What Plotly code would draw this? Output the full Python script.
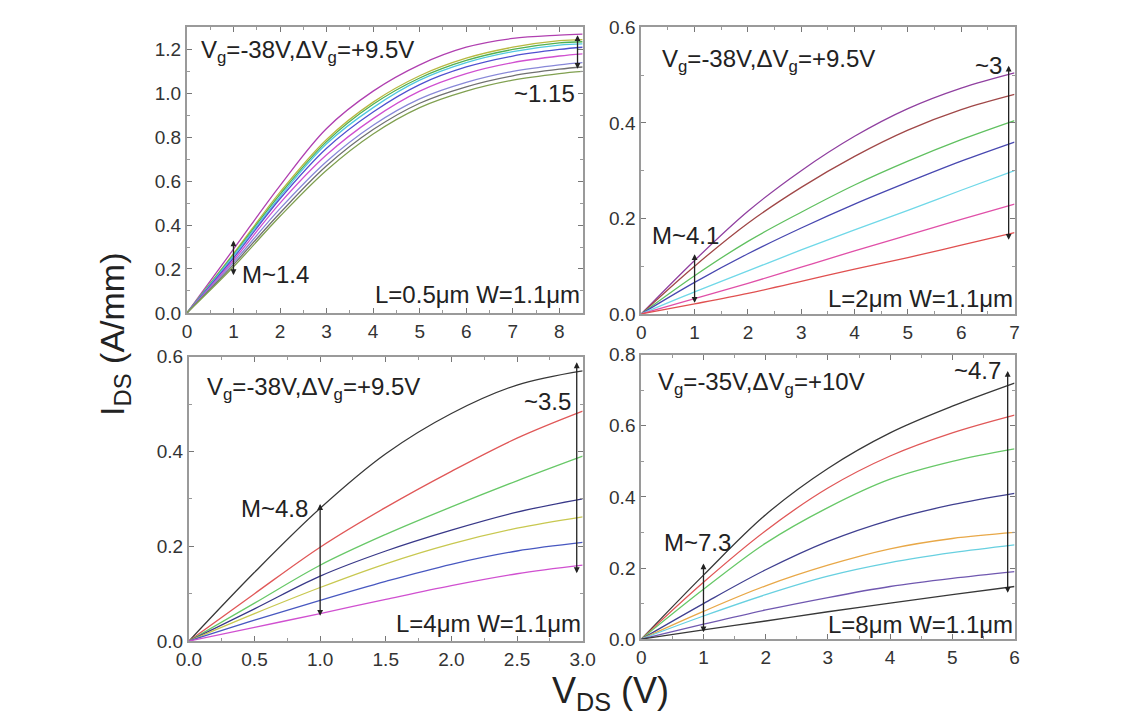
import plotly.graph_objects as go

W, H = 1135, 721

# ---------------- data ----------------
# Panel (a): L=0.5um
vds_a = [0, 1, 2, 3, 4, 5, 6, 7, 8, 8.5]
ids_a = [
    [0, 0.29, 0.58, 0.84, 1.01, 1.13, 1.21, 1.25, 1.265, 1.27],
    [0, 0.27, 0.55, 0.79, 0.96, 1.08, 1.16, 1.21, 1.24, 1.245],
    [0, 0.265, 0.54, 0.78, 0.95, 1.07, 1.15, 1.20, 1.23, 1.235],
    [0, 0.26, 0.53, 0.77, 0.935, 1.06, 1.14, 1.19, 1.22, 1.225],
    [0, 0.25, 0.52, 0.75, 0.915, 1.04, 1.12, 1.17, 1.20, 1.21],
    [0, 0.24, 0.50, 0.72, 0.885, 1.01, 1.09, 1.14, 1.17, 1.18],
    [0, 0.23, 0.475, 0.69, 0.855, 0.975, 1.05, 1.10, 1.13, 1.14],
    [0, 0.22, 0.455, 0.67, 0.835, 0.955, 1.03, 1.08, 1.11, 1.12],
    [0, 0.21, 0.44, 0.65, 0.815, 0.935, 1.01, 1.06, 1.09, 1.10],
]
col_a = ["#B040B0", "#B8B840", "#50B050", "#50C8E0", "#5050D0",
         "#D050D0", "#8888D8", "#707070", "#80A050"]

# Panel (b): L=2um
vds_b = [0, 1, 2, 3, 4, 5, 6, 7]
ids_b = [
    [0, 0.112, 0.215, 0.30, 0.372, 0.43, 0.473, 0.505],
    [0, 0.10, 0.19, 0.265, 0.33, 0.385, 0.428, 0.46],
    [0, 0.08, 0.152, 0.213, 0.27, 0.32, 0.365, 0.405],
    [0, 0.066, 0.126, 0.18, 0.23, 0.276, 0.32, 0.36],
    [0, 0.046, 0.09, 0.134, 0.176, 0.217, 0.259, 0.30],
    [0, 0.032, 0.064, 0.098, 0.132, 0.165, 0.198, 0.23],
    [0, 0.021, 0.043, 0.068, 0.094, 0.118, 0.144, 0.17],
]
col_b = ["#9040A0", "#A04848", "#60C060", "#4848B0", "#70D8E8", "#E050A8", "#E05050"]

# Panel (c): L=4um
vds_c = [0, 0.5, 1, 1.5, 2, 2.5, 3]
ids_c = [
    [0, 0.145, 0.28, 0.395, 0.48, 0.54, 0.57],
    [0, 0.10, 0.198, 0.282, 0.358, 0.428, 0.485],
    [0, 0.08, 0.16, 0.225, 0.283, 0.338, 0.39],
    [0, 0.068, 0.137, 0.19, 0.234, 0.272, 0.30],
    [0, 0.058, 0.113, 0.163, 0.205, 0.238, 0.262],
    [0, 0.044, 0.086, 0.126, 0.162, 0.19, 0.208],
    [0, 0.029, 0.058, 0.088, 0.117, 0.142, 0.16],
]
col_c = ["#383838", "#E05858", "#68C868", "#383888", "#C8C850", "#4858C0", "#D050D0"]

# Panel (d): L=8um
vds_d = [0, 1, 2, 3, 4, 5, 6]
ids_d = [
    [0, 0.18, 0.35, 0.48, 0.58, 0.655, 0.72],
    [0, 0.16, 0.305, 0.425, 0.515, 0.58, 0.63],
    [0, 0.14, 0.27, 0.37, 0.45, 0.50, 0.535],
    [0, 0.10, 0.195, 0.275, 0.335, 0.378, 0.41],
    [0, 0.078, 0.15, 0.208, 0.254, 0.283, 0.30],
    [0, 0.065, 0.125, 0.177, 0.215, 0.243, 0.265],
    [0, 0.042, 0.082, 0.117, 0.148, 0.171, 0.19],
    [0, 0.026, 0.051, 0.077, 0.101, 0.125, 0.148],
]
col_d = ["#383838", "#E05858", "#68C868", "#404090", "#E8A848", "#68D0E0", "#7058B0", "#383838"]

# ---------------- layout geometry (pixels) ----------------
def px_dom(a, b, total):
    return [a / total, b / total]

panels = [
    # (axis suffix, x px range, y px range (top,bottom), x range, y range, xdtick, ydtick, xfmt)
    ("", (178, 583), (18, 312), [0, 8.5], [0, 1.3], 1, 0.2, "d"),
    ("2", (643, 1025), (18, 313), [0, 7], [0, 0.6], 1, 0.2, "d"),
    ("3", (180, 583), (357, 650), [0, 3], [0, 0.6], 0.5, 0.2, ".1f"),
    ("4", (643, 1025), (355, 648), [0, 6], [0, 0.8], 1, 0.2, "d"),
]

FONT = "Liberation Sans, Arial, sans-serif"
fig = go.Figure()

datasets = [(vds_a, ids_a, col_a), (vds_b, ids_b, col_b), (vds_c, ids_c, col_c), (vds_d, ids_d, col_d)]
for (suf, _, _, _, _, _, _, _), (xs, ys, cs) in zip(panels, datasets):
    for y, c in zip(ys, cs):
        fig.add_trace(go.Scatter(x=xs, y=y, mode="lines",
                                 line=dict(color=c, width=1.3, shape="spline", smoothing=1.0),
                                 xaxis="x" + suf, yaxis="y" + suf, showlegend=False,
                                 hoverinfo="skip"))

layout = {}
for suf, (x0, x1), (yt, yb), xr, yr, xdt, ydt, xfmt in panels:
    common = dict(showline=True, linecolor="#9a9a9a", linewidth=2, mirror="ticks",
                  ticks="inside", ticklen=5, tickwidth=1, tickcolor="#777",
                  showgrid=False, zeroline=False,
                  tickfont=dict(family=FONT, size=19, color="#333"))
    layout["xaxis" + suf] = dict(common, domain=px_dom(x0, x1, W), range=xr,
                                 anchor="y" + suf, dtick=xdt, tick0=0, tickformat=xfmt,
                                 minor=dict(ticks="inside", ticklen=3, dtick=xdt / 2, tickcolor="#999"))
    layout["yaxis" + suf] = dict(common, domain=[1 - yb / H, 1 - yt / H], range=yr,
                                 anchor="x" + suf, dtick=ydt, tick0=0, tickformat=".1f",
                                 minor=dict(ticks="inside", ticklen=3, dtick=ydt / 2, tickcolor="#999"))

fig.update_layout(**layout)

ann = []
TXT = dict(family=FONT, size=24, color="#222")

def txt(suf, x, y, t, xa="left"):
    ann.append(dict(xref="x" + suf, yref="y" + suf, x=x, y=y, text=t, showarrow=False,
                    xanchor=xa, yanchor="middle", font=TXT))

def arrow(suf, x, y0, y1):
    ann.append(dict(xref="x" + suf, yref="y" + suf, x=x, y=y1, ax=x, ay=y0,
                    axref="x" + suf, ayref="y" + suf, text="", showarrow=True,
                    arrowhead=2, arrowsize=0.9, arrowwidth=1.3, arrowcolor="#222",
                    arrowside="end+start", standoff=0, startstandoff=0))

vg1 = "V<sub>g</sub>=-38V,ΔV<sub>g</sub>=+9.5V"
vg4 = "V<sub>g</sub>=-35V,ΔV<sub>g</sub>=+10V"

# panel a
txt("", 0.25, 1.19, vg1)
txt("", 8.37, 1.0, "~1.15", "right")
txt("", 1.15, 0.175, "M~1.4")
txt("", 8.48, 0.085, "L=0.5μm W=1.1μm", "right")
arrow("", 1.0, 0.165, 0.33)
arrow("", 8.39, 1.105, 1.265)
# panel b
txt("2", 0.35, 0.53, vg1)
txt("2", 6.8, 0.52, "~3", "right")
txt("2", 0.17, 0.165, "M~4.1")
txt("2", 7.0, 0.033, "L=2μm W=1.1μm", "right")
arrow("2", 1.0, 0.02, 0.125)
arrow("2", 6.89, 0.152, 0.52)
# panel c
txt("3", 0.12, 0.533, vg1)
txt("3", 2.93, 0.506, "~3.5", "right")
txt("3", 0.92, 0.28, "M~4.8", "right")
txt("3", 3.0, 0.037, "L=4μm W=1.1μm", "right")
arrow("3", 1.0, 0.05, 0.289)
arrow("3", 2.955, 0.14, 0.588)
# panel d
txt("4", 0.23, 0.72, vg4)
txt("4", 5.82, 0.755, "~4.7", "right")
txt("4", 0.34, 0.273, "M~7.3")
txt("4", 6.0, 0.041, "L=8μm W=1.1μm", "right")
arrow("4", 1.0, 0.015, 0.213)
arrow("4", 5.89, 0.126, 0.754)

# axis titles
ann.append(dict(xref="paper", yref="paper", x=104 / W, y=1 - 334 / H,
                text="I<sub>DS</sub> (A/mm)", textangle=-90, showarrow=False,
                xanchor="center", yanchor="middle",
                font=dict(family=FONT, size=34, color="#222")))
ann.append(dict(xref="paper", yref="paper", x=612 / W, y=1 - 703 / H,
                text="V<sub>DS</sub> (V)", showarrow=False,
                xanchor="center", yanchor="middle",
                font=dict(family=FONT, size=36, color="#222")))

fig.update_layout(annotations=ann, width=W, height=H,
                  margin=dict(l=0, r=0, t=0, b=0),
                  paper_bgcolor="white", plot_bgcolor="white")

fig.write_html("out.html")
